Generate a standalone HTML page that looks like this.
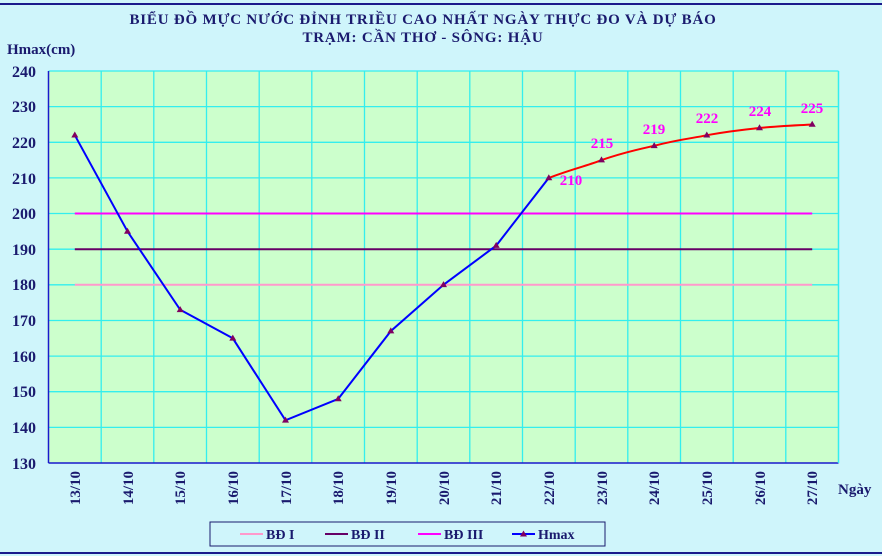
<!DOCTYPE html>
<html><head><meta charset="utf-8"><style>
body{margin:0;background:#fff}
svg{display:block;font-family:"Liberation Serif",serif;font-weight:bold}
</style></head><body>
<svg width="882" height="556" viewBox="0 0 882 556" xmlns="http://www.w3.org/2000/svg">
<rect x="0" y="0" width="882" height="556" fill="#cff5fb"/>
<line x1="0" y1="4" x2="882" y2="4" stroke="#1a1a8c" stroke-width="2"/>
<line x1="0" y1="553" x2="882" y2="553" stroke="#1a1a8c" stroke-width="2"/>
<text x="423" y="24" text-anchor="middle" font-size="15" letter-spacing="0.8" fill="#1a1a6e">BIỂU ĐỒ MỰC NƯỚC ĐỈNH TRIỀU CAO NHẤT NGÀY THỰC ĐO VÀ DỰ BÁO</text>
<text x="423" y="42" text-anchor="middle" font-size="15" letter-spacing="0.8" fill="#1a1a6e">TRẠM: CẦN THƠ - SÔNG: HẬU</text>
<text x="7" y="54" font-size="15" fill="#1a1a6e">Hmax(cm)</text>
<rect x="48.5" y="71" width="790" height="392" fill="#ccffcc"/>
<g stroke="#33eeee" stroke-width="1.3">
<line x1="48.5" y1="106.6" x2="838.5" y2="106.6"/><line x1="48.5" y1="142.3" x2="838.5" y2="142.3"/><line x1="48.5" y1="177.9" x2="838.5" y2="177.9"/><line x1="48.5" y1="213.5" x2="838.5" y2="213.5"/><line x1="48.5" y1="249.2" x2="838.5" y2="249.2"/><line x1="48.5" y1="284.8" x2="838.5" y2="284.8"/><line x1="48.5" y1="320.5" x2="838.5" y2="320.5"/><line x1="48.5" y1="356.1" x2="838.5" y2="356.1"/><line x1="48.5" y1="391.7" x2="838.5" y2="391.7"/><line x1="48.5" y1="427.4" x2="838.5" y2="427.4"/><line x1="48.5" y1="71" x2="838.5" y2="71"/>
<line x1="101.2" y1="71" x2="101.2" y2="463"/><line x1="153.8" y1="71" x2="153.8" y2="463"/><line x1="206.5" y1="71" x2="206.5" y2="463"/><line x1="259.2" y1="71" x2="259.2" y2="463"/><line x1="311.8" y1="71" x2="311.8" y2="463"/><line x1="364.5" y1="71" x2="364.5" y2="463"/><line x1="417.2" y1="71" x2="417.2" y2="463"/><line x1="469.8" y1="71" x2="469.8" y2="463"/><line x1="522.5" y1="71" x2="522.5" y2="463"/><line x1="575.2" y1="71" x2="575.2" y2="463"/><line x1="627.8" y1="71" x2="627.8" y2="463"/><line x1="680.5" y1="71" x2="680.5" y2="463"/><line x1="733.2" y1="71" x2="733.2" y2="463"/><line x1="785.8" y1="71" x2="785.8" y2="463"/>
</g>
<g stroke="#1a1acc" stroke-width="1.5">
<line x1="48.5" y1="71" x2="48.5" y2="463"/><line x1="48.5" y1="463" x2="838.5" y2="463"/>
<line x1="838.5" y1="71" x2="838.5" y2="463" stroke="#33eeee"/>
</g>
<g font-size="16" fill="#1a1a6e" text-anchor="end">
<text x="36" y="77">240</text><text x="36" y="112">230</text><text x="36" y="148">220</text><text x="36" y="184">210</text><text x="36" y="219">200</text><text x="36" y="255">190</text><text x="36" y="290">180</text><text x="36" y="326">170</text><text x="36" y="362">160</text><text x="36" y="397">150</text><text x="36" y="433">140</text><text x="36" y="469">130</text>
</g>
<g font-size="15" fill="#1a1a6e" text-anchor="end">
<text transform="translate(80,471) rotate(-90)">13/10</text><text transform="translate(133,471) rotate(-90)">14/10</text><text transform="translate(185,471) rotate(-90)">15/10</text><text transform="translate(238,471) rotate(-90)">16/10</text><text transform="translate(291,471) rotate(-90)">17/10</text><text transform="translate(343,471) rotate(-90)">18/10</text><text transform="translate(396,471) rotate(-90)">19/10</text><text transform="translate(449,471) rotate(-90)">20/10</text><text transform="translate(501,471) rotate(-90)">21/10</text><text transform="translate(554,471) rotate(-90)">22/10</text><text transform="translate(607,471) rotate(-90)">23/10</text><text transform="translate(659,471) rotate(-90)">24/10</text><text transform="translate(712,471) rotate(-90)">25/10</text><text transform="translate(765,471) rotate(-90)">26/10</text><text transform="translate(817,471) rotate(-90)">27/10</text>
</g>
<text x="838" y="494" font-size="15" fill="#1a1a6e">Ngày</text>
<line x1="74.8" y1="284.8" x2="812.2" y2="284.8" stroke="#ff99cc" stroke-width="2"/>
<line x1="74.8" y1="249.2" x2="812.2" y2="249.2" stroke="#660066" stroke-width="2"/>
<line x1="74.8" y1="213.5" x2="812.2" y2="213.5" stroke="#ff00ff" stroke-width="2"/>
<polyline fill="none" stroke="#0000ff" stroke-width="2" points="74.8,135.2 127.5,231.4 180.2,309.8 232.8,338.3 285.5,420.3 338.2,398.9 390.8,331.1 443.5,284.8 496.2,245.6 548.8,177.9"/>
<path fill="none" stroke="#ff0000" stroke-width="2" d="M548.8,177.9 C575,168 590,165 601.5,160.1 C625,152 640,149 654.2,145.8 C680,139 695,138 706.8,135.2 C730,131 745,129.5 759.5,128.0 C780,126 795,125.5 812.2,124.5"/>
<g fill="#800060">
<path d="M74.8,131.5 l3.5,6 h-7z"/><path d="M127.5,227.7 l3.5,6 h-7z"/><path d="M180.2,306.1 l3.5,6 h-7z"/><path d="M232.8,334.6 l3.5,6 h-7z"/><path d="M285.5,416.6 l3.5,6 h-7z"/><path d="M338.2,395.2 l3.5,6 h-7z"/><path d="M390.8,327.4 l3.5,6 h-7z"/><path d="M443.5,281.1 l3.5,6 h-7z"/><path d="M496.2,241.9 l3.5,6 h-7z"/><path d="M548.8,174.2 l3.5,6 h-7z"/><path d="M601.5,156.4 l3.5,6 h-7z"/><path d="M654.2,142.1 l3.5,6 h-7z"/><path d="M706.8,131.5 l3.5,6 h-7z"/><path d="M759.5,124.3 l3.5,6 h-7z"/><path d="M812.2,120.8 l3.5,6 h-7z"/>
</g>
<g font-size="15" fill="#ff00ff" text-anchor="middle">
<text x="571" y="185">210</text><text x="602" y="148">215</text><text x="654" y="134">219</text><text x="707" y="123">222</text><text x="760" y="116">224</text><text x="812" y="113">225</text>
</g>
<rect x="210" y="522" width="395" height="24" fill="#cff5fb" stroke="#1a1a6e" stroke-width="1"/>
<g font-size="14" fill="#1a1a6e">
<line x1="240" y1="534" x2="263" y2="534" stroke="#ff99cc" stroke-width="2"/><text x="266" y="539">BĐ I</text>
<line x1="325" y1="534" x2="348" y2="534" stroke="#660066" stroke-width="2"/><text x="351" y="539">BĐ II</text>
<line x1="418" y1="534" x2="441" y2="534" stroke="#ff00ff" stroke-width="2"/><text x="444" y="539">BĐ III</text>
<line x1="512" y1="534" x2="535" y2="534" stroke="#0000ff" stroke-width="2"/><path d="M523.5,530.5 l3.5,6 h-7z" fill="#800060"/><text x="538" y="539">Hmax</text>
</g>
</svg>
</body></html>
